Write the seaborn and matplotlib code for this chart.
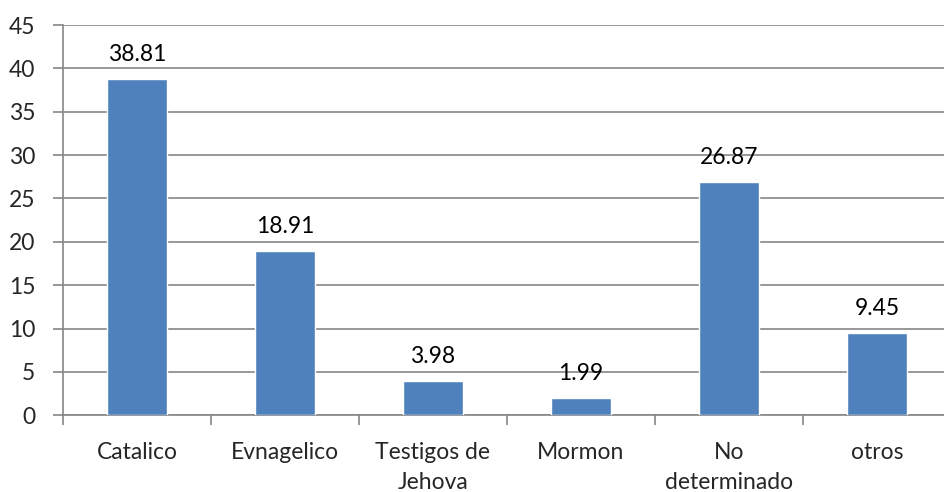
import numpy as np
import pandas as pd
import seaborn as sns
import matplotlib.pyplot as plt

categories = ["Catalico", "Evnagelico", "Testigos de\nJehova", "Mormon", "No\ndeterminado", "otros"]
values = [38.81, 18.91, 3.98, 1.99, 26.87, 9.45]
value_labels = ["38.81", "18.91", "3.98", "1.99", "26.87", "9.45"]

df = pd.DataFrame({"categoria": categories, "valor": values})

sns.set_style("white")
plt.rcParams['font.family'] = ['Lato', 'DejaVu Sans']
grid_color = "#868686"
fs = 16.5

fig = plt.figure(figsize=(9.44, 4.92), dpi=100)
ax = fig.add_axes([0.0667, 0.156, 0.9407, 0.793])

sns.barplot(data=df, x="categoria", y="valor", color="#4F81BD", saturation=1,
            width=0.405, ax=ax, zorder=3)

for i, (v, lab) in enumerate(zip(values, value_labels)):
    ax.text(i, v + 1.6, lab, ha="center", va="bottom", fontsize=fs, color="black")

ax.set_ylim(0, 45)
ax.set_yticks(np.arange(0, 46, 5))
ax.set_xlim(-0.5, len(categories) - 0.5)
ax.set_xticks(np.arange(-0.5, len(categories), 1))
ax.set_xticklabels([])
ax.set_xticks(range(len(categories)), minor=True)
ax.set_xticklabels(categories, minor=True, fontsize=fs, linespacing=1.55)
ax.tick_params(axis="x", which="major", length=7, color=grid_color, width=1.2, direction="out", bottom=True)
ax.tick_params(axis="x", which="minor", length=0, pad=19)
ax.tick_params(axis="y", length=7, color=grid_color, width=1.2, direction="out", left=True, labelsize=fs, pad=13)

ax.yaxis.grid(True, color=grid_color, linewidth=1.2, zorder=0)
ax.set_axisbelow(True)
for s in ["top", "right"]:
    ax.spines[s].set_visible(False)
for s in ["left", "bottom"]:
    ax.spines[s].set_color(grid_color)
    ax.spines[s].set_linewidth(1.2)

ax.set_xlabel("")
ax.set_ylabel("")

plt.savefig("out.png", dpi=100)
plt.close("all")
